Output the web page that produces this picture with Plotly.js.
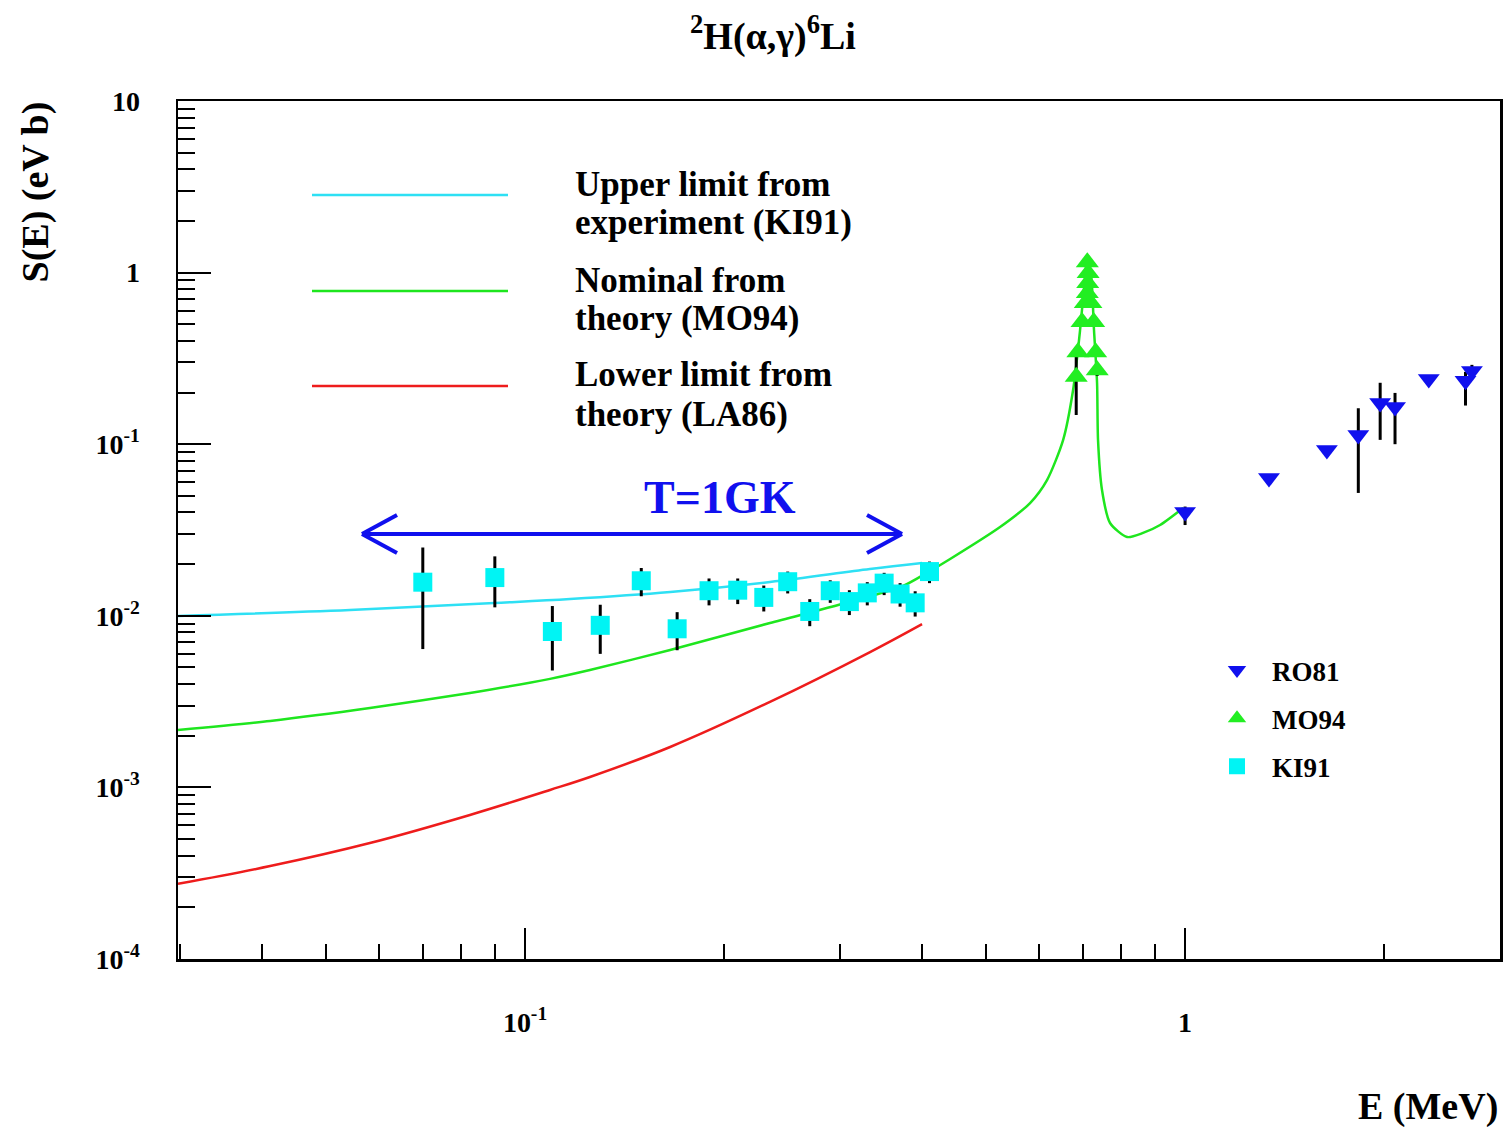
<!DOCTYPE html>
<html>
<head>
<meta charset="utf-8">
<script src="https://cdn.plot.ly/plotly-3.0.1.min.js"></script>
<style>html,body{margin:0;padding:0;background:#fff;}#chart{width:1504px;height:1127px;}</style>
</head>
<body>
<div id="chart"></div>
<script>
// ---- data (E in MeV, S in eV b) ----
const ki91E = [0.07,0.09,0.11,0.13,0.15,0.17,0.19,0.21,0.23,0.25,0.27,0.29,0.31,0.33,0.35,0.37,0.39,0.41];
const ki91S = [0.0157,0.0167,0.0081,0.0088,0.0160,0.0084,0.0140,0.0141,0.0128,0.0158,0.0106,0.0140,0.0121,0.0136,0.0155,0.0134,0.0119,0.0181];
const ki91Err = [0.0093,0.0055,0.0033,0.0028,0.0030,0.0021,0.0025,0.0024,0.0022,0.0023,0.0019,0.0021,0.0020,0.0021,0.0023,0.0021,0.0020,0.0026];

const ro81E = [1.00,1.34,1.64,1.83,1.975,2.08,2.34,2.66,2.72];
const ro81S = [0.0403,0.0635,0.0925,0.113,0.174,0.165,0.240,0.234,0.267];
const ro81ErrPlus  = [0.003,0.002,0.002,0.049,0.054,0.034,0.004,0.030,0.023];
const ro81ErrMinus = [0.0065,0.002,0.002,0.061,0.068,0.065,0.004,0.066,0.010];

const mo94E = [0.684,0.736,0.688,0.732,0.698,0.727,0.706,0.720,0.711,0.712,0.713,0.711];
const mo94S = [0.247,0.270,0.344,0.344,0.515,0.515,0.665,0.665,0.76,0.87,0.995,1.15];
const mo94Err = [0.099,0.02,0.02,0.02,0.02,0.02,0.02,0.02,0.02,0.02,0.02,0.02];

const upperE = [0.0298,0.0543,0.0898,0.117,0.166,0.235,0.333,0.3995];
const upperS = [0.00998,0.01081,0.01188,0.01253,0.01377,0.01574,0.01874,0.02031];

const nominalE = [0.0298,0.0411,0.0582,0.0825,0.1091,0.1254,0.1659,0.2350,0.3141,0.3738,0.4037,0.4406,0.5244,0.5823,0.6178,0.6534,0.6766,0.6933,0.7059,0.7110,0.7205,0.7278,0.7356,0.7381,0.7484,0.7697,0.8169,0.8637,0.9165,0.9931];
const nominalS = [0.00216,0.00244,0.00290,0.00355,0.00429,0.00483,0.00632,0.00908,0.01220,0.01492,0.01753,0.02143,0.03291,0.04541,0.06180,0.1057,0.2070,0.463,0.968,1.216,0.968,0.463,0.2275,0.1057,0.05408,0.03474,0.02878,0.03040,0.03381,0.04248];

const lowerE = [0.0298,0.0411,0.0582,0.0825,0.1091,0.1254,0.1659,0.2350,0.3332,0.3995];
const lowerS = [0.000274,0.000348,0.000474,0.000691,0.000966,0.00115,0.00172,0.00315,0.00615,0.00895];

const xTickVals = [0.1, 1];
const xTickText = ['10<sup>-1</sup>', '1'];
const xMinorVals = [0.03,0.04,0.05,0.06,0.07,0.08,0.09,0.2,0.3,0.4,0.5,0.6,0.7,0.8,0.9,2,3];
const yTickVals = [1e-4,1e-3,1e-2,1e-1,1,10];
const yTickText = ['10<sup>-4</sup>','10<sup>-3</sup>','10<sup>-2</sup>','10<sup>-1</sup>','1','10'];
const yMinorVals = [];
[1e-4,1e-3,1e-2,1e-1,1].forEach(d => [2,3,4,5,6,7,8,9].forEach(m => yMinorVals.push(d*m)));

const curveNames = ['Upper limit from', 'experiment (KI91)', 'Nominal from', 'theory (MO94)', 'Lower limit from', 'theory (LA86)'];

// ---- styling ----
const FONT = 'Liberation Serif, Times New Roman, serif';
const cCyanLine = '#2ee0f4', cGreen = '#1ee61e', cRed = '#ee1c1c', cBlue = '#1010ee', cCyan = '#00f4f4', cGreenMk = '#22ee22';

const traces = [
  {x: upperE, y: upperS, mode: 'lines', line: {color: cCyanLine, width: 2.5, shape: 'spline', smoothing: 1}, showlegend: false, hoverinfo: 'skip'},
  {x: nominalE, y: nominalS, mode: 'lines', line: {color: cGreen, width: 2.5, shape: 'spline', smoothing: 0.7}, showlegend: false, hoverinfo: 'skip'},
  {x: lowerE, y: lowerS, mode: 'lines', line: {color: cRed, width: 2.5, shape: 'spline', smoothing: 1}, showlegend: false, hoverinfo: 'skip'},
  {x: ro81E, y: ro81S, name: 'RO81', legendgroup: 'a', mode: 'markers',
   marker: {symbol: 'triangle-down', size: 19, color: cBlue},
   error_y: {type: 'data', symmetric: false, array: ro81ErrPlus, arrayminus: ro81ErrMinus, color: '#000', thickness: 3, width: 0}},
  {x: mo94E, y: mo94S, name: 'MO94', legendgroup: 'b', mode: 'markers',
   marker: {symbol: 'triangle-up', size: 20, color: cGreenMk},
   error_y: {type: 'data', array: mo94Err, color: '#000', thickness: 3, width: 0}},
  {x: ki91E, y: ki91S, name: 'KI91', legendgroup: 'c', mode: 'markers',
   marker: {symbol: 'square', size: 19, color: cCyan},
   error_y: {type: 'data', array: ki91Err, color: '#000', thickness: 3, width: 0}}
];

// paper-coordinate helpers for the 178..1500 x 101..959 plot box
const PX = x => (x - 178) / 1322;
const PY = y => (959 - y) / 858;

const shapes = [];
const sampleColors = [cCyanLine, cGreen, cRed];
const sampleY = [195, 291, 386];
sampleColors.forEach((c, i) => shapes.push({type: 'line', xref: 'paper', yref: 'paper', x0: PX(312), x1: PX(508), y0: PY(sampleY[i]), y1: PY(sampleY[i]), line: {color: c, width: 2.5}}));
// T=1GK double arrow with open heads
const arrowSegs = [[362,534,902,534],[362,534,397,515],[362,534,397,553],[902,534,867,515],[902,534,867,553]];
arrowSegs.forEach(s => shapes.push({type: 'line', xref: 'paper', yref: 'paper', x0: PX(s[0]), y0: PY(s[1]), x1: PX(s[2]), y1: PY(s[3]), line: {color: cBlue, width: 4}}));

const annotations = [];
const textY = [184, 223, 280, 319, 375, 414];
curveNames.forEach((t, i) => annotations.push({text: t, xref: 'paper', yref: 'paper', x: PX(573), y: PY(textY[i]), xanchor: 'left', yanchor: 'middle', showarrow: false, font: {family: FONT, size: 35, weight: 'bold', color: '#000'}}));
annotations.push({text: 'T=1GK', xref: 'paper', yref: 'paper', x: PX(720), y: PY(497), xanchor: 'center', yanchor: 'middle', showarrow: false, font: {family: FONT, size: 46, weight: 'bold', color: cBlue}});
annotations.push({text: 'S(E) (eV b)', xref: 'paper', yref: 'paper', x: PX(35), y: PY(100), xanchor: 'center', yanchor: 'top', textangle: -90, showarrow: false, font: {family: FONT, size: 38, weight: 'bold', color: '#000'}});
annotations.push({text: 'E (MeV)', xref: 'paper', yref: 'paper', x: PX(1500), y: PY(1106), xanchor: 'right', yanchor: 'middle', showarrow: false, font: {family: FONT, size: 38, weight: 'bold', color: '#000'}});

const tickFont = {family: FONT, size: 28, weight: 'bold', color: '#000'};

const layout = {
  width: 1504, height: 1127,
  margin: {l: 178, r: 4, t: 101, b: 168},
  paper_bgcolor: '#fff', plot_bgcolor: '#fff',
  title: {text: '<sup>2</sup>H(α,γ)<sup>6</sup>Li', x: 773/1504, xanchor: 'center', y: 1 - 36/1127, yanchor: 'middle',
          font: {family: FONT, size: 38, weight: 'bold', color: '#000'}},
  xaxis: {type: 'log', range: [Math.log10(0.0298), Math.log10(3.0)], showgrid: false, zeroline: false,
          showline: true, linecolor: '#000', linewidth: 2.5, mirror: true,
          ticks: 'inside', ticklen: 31, tickwidth: 2, tickcolor: '#000',
          tickmode: 'array', tickvals: xTickVals, ticktext: xTickText, tickfont: tickFont, ticklabelstandoff: 37,
          minor: {tickmode: 'array', tickvals: xMinorVals, ticks: 'inside', ticklen: 15, tickwidth: 2, tickcolor: '#000', showgrid: false}},
  yaxis: {type: 'log', range: [-4, 1], showgrid: false, zeroline: false,
          showline: true, linecolor: '#000', linewidth: 2.5, mirror: true,
          ticks: 'inside', ticklen: 33, tickwidth: 2, tickcolor: '#000',
          tickmode: 'array', tickvals: yTickVals, ticktext: yTickText, tickfont: tickFont, ticklabelstandoff: 30,
          minor: {tickmode: 'array', tickvals: yMinorVals, ticks: 'inside', ticklen: 17, tickwidth: 2, tickcolor: '#000', showgrid: false}},
  showlegend: true,
  legend: {x: PX(1202), y: PY(646), xanchor: 'left', yanchor: 'top', bgcolor: 'rgba(0,0,0,0)', borderwidth: 0,
           font: {family: FONT, size: 27, weight: 'bold', color: '#000'}, itemwidth: 60, tracegroupgap: 10, traceorder: 'grouped'},
  shapes: shapes,
  annotations: annotations,
  hovermode: false
};

Plotly.newPlot('chart', traces, layout, {displayModeBar: false, staticPlot: true});
</script>
</body>
</html>
